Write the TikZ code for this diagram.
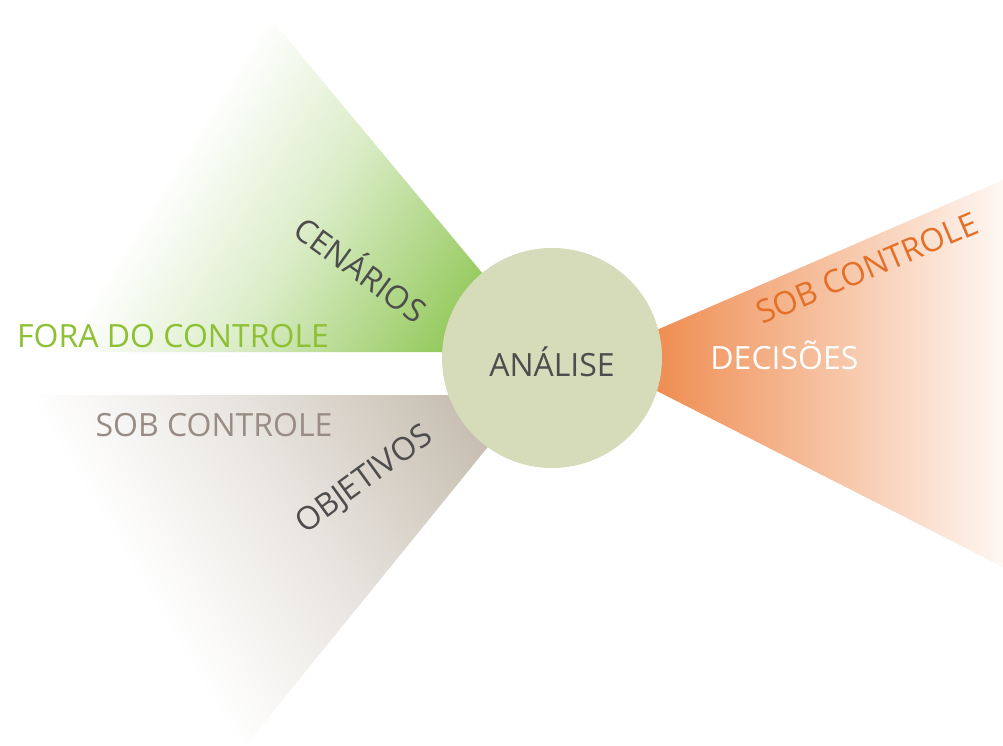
\documentclass[tikz,border=0pt]{standalone}
\usepackage{fontspec}
\setmainfont{Open Sans}
\usetikzlibrary{positioning}

\definecolor{cenarioGreen}{RGB}{148,201,92}
\definecolor{foraGreen}{RGB}{141,192,50}
\definecolor{objetivoTaupe}{RGB}{196,187,173}
\definecolor{sobTaupe}{RGB}{152,140,132}
\definecolor{decisaoOrange}{RGB}{236,122,52}
\definecolor{sobOrange}{RGB}{228,112,40}
\definecolor{analiseSage}{RGB}{214,219,186}
\definecolor{labelGray}{RGB}{77,77,77}

\tikzset{
    lbl/.style={font=\fontsize{32}{38}\selectfont,inner sep=0pt,text height=23pt,text depth=0pt},
    hub/.style={circle,fill=analiseSage,minimum size=220pt,inner sep=0pt}
}

\begin{document}
\begin{tikzpicture}[x=1pt,y=-1pt]
    \fill[white] (0,0) rectangle (1003,746);
    \useasboundingbox (0,0) rectangle (1003,746);

    % wedges, faded away from the hub
    \begin{scope}
        \clip (265,12) -- (548,352) -- (0,352) -- cycle;
        \begin{scope}[transform canvas={rotate=-32}]
            \shade[left color=white,right color=cenarioGreen!35] (235,-900) rectangle (385,900);
            \shade[left color=cenarioGreen!35,right color=cenarioGreen] (384,-900) rectangle (565,900);
            \fill[cenarioGreen] (564,-900) rectangle (1100,900);
        \end{scope}
    \end{scope}

    \begin{scope}
        \clip (0,395) -- (530,395) -- (245,746) -- cycle;
        \begin{scope}[transform canvas={rotate=31}]
            \shade[left color=white,right color=objetivoTaupe!35] (-180,-900) rectangle (-20,900);
            \shade[left color=objetivoTaupe!35,right color=objetivoTaupe] (-21,-900) rectangle (205,900);
            \fill[objetivoTaupe] (204,-900) rectangle (1100,900);
        \end{scope}
    \end{scope}

    \shade[left color=decisaoOrange,right color=decisaoOrange!6] (592,358) -- (1003,180) -- (1003,567) -- cycle;

    \node[hub] (analise) at (552,358) {};
    \node[lbl,labelGray] (analiseLabel) at ([yshift=-7pt]analise.center) {ANÁLISE};

    \node[lbl,labelGray,rotate=-36] (cenarios) at (360,270) {CENÁRIOS};
    \node[lbl,foraGreen] (fora) at (173,336) {FORA DO CONTROLE};

    \node[lbl,sobTaupe] (sobEsq) at (214,425) {SOB CONTROLE};
    \node[lbl,labelGray,rotate=36] (objetivos) at (363,478) {OBJETIVOS};

    \node[lbl,white,right=48pt of analise] (decisoes) {DECISÕES};
    \node[lbl,sobOrange,rotate=23] (sobDir) at (867,268) {SOB CONTROLE};
\end{tikzpicture}
\end{document}
